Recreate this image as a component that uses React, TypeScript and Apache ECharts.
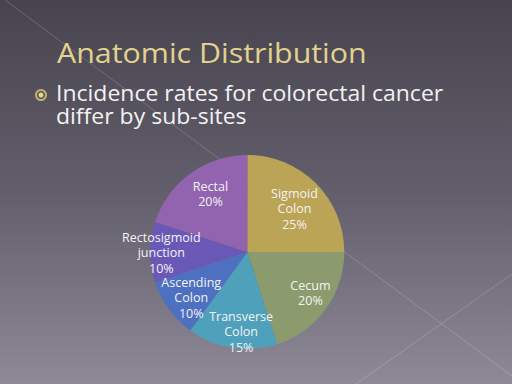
import React, { useEffect, useRef } from "react";
import * as echarts from "echarts";

const titleText = "Anatomic Distribution";
const bulletLines = ["Incidence rates for colorectal cancer", "differ by sub-sites"];
const siteNames = ["Sigmoid Colon", "Cecum", "Transverse Colon", "Ascending Colon", "Rectosigmoid junction", "Rectal"];
const sharePercent = [25, 20, 15, 10, 10, 20];
const sliceColors = ["#bba455", "#8c9b6e", "#4fa0ba", "#4e70c0", "#6a58b6", "#9264b0"];
const labelNudges: [number, number][] = [[-8, 12], [0, -5], [6, 3], [7, 0], [-8, 1], [9, 5]];

const FONT = "'Open Sans', 'DejaVu Sans', sans-serif";

export default function App() {
  const ref = useRef<HTMLDivElement>(null);
  useEffect(() => {
    document.body.style.margin = "0";
    const chart = echarts.init(ref.current!, undefined, { renderer: "svg" });
    const center = ["48.3%", "65.6%"];
    chart.setOption({
      animation: false,
      backgroundColor: new echarts.graphic.LinearGradient(0, 0, 0, 1, [
        { offset: 0, color: "#47444f" },
        { offset: 0.5, color: "#625e6b" },
        { offset: 1, color: "#8d8997" },
      ]),
      graphic: [
        { type: "line", z: 0, shape: { x1: 5, y1: 0, x2: 512, y2: 376 }, style: { stroke: "rgba(255,255,255,0.18)", lineWidth: 1 } },
        { type: "line", z: 0, shape: { x1: 512, y1: 274, x2: 356, y2: 384 }, style: { stroke: "rgba(255,255,255,0.18)", lineWidth: 1 } },
        {
          type: "text", x: 57, y: 38, z: 5, scaleX: 1.085,
          style: { text: titleText, fill: "#e3d28e", font: `28px ${FONT}` },
        },
        { type: "circle", z: 5, shape: { cx: 41, cy: 95, r: 5 }, style: { fill: "rgba(0,0,0,0)", stroke: "#c2b06e", lineWidth: 2 } },
        { type: "circle", z: 5, shape: { cx: 41, cy: 95, r: 2.5 }, style: { fill: "#e6d98a" } },
        {
          type: "text", x: 56, y: 81, z: 5, scaleX: 1.095,
          style: { text: bulletLines.join("\n"), fill: "#f2f2f2", font: `21px ${FONT}`, lineHeight: 23 },
        },
      ],
      series: [
        {
          type: "pie",
          center,
          radius: [0, 97],
          startAngle: 90,
          clockwise: true,
          silent: true,
          label: { show: false },
          labelLine: { show: false },
          data: siteNames.map((n, i) => ({ name: n, value: sharePercent[i], itemStyle: { color: sliceColors[i] } })),
        },
        {
          type: "pie",
          center,
          radius: [0, 150],
          startAngle: 90,
          clockwise: true,
          silent: true,
          avoidLabelOverlap: false,
          labelLayout: { hideOverlap: false },
          z: 3,
          itemStyle: { color: "rgba(0,0,0,0)" },
          labelLine: { show: false },
          data: siteNames.map((n, i) => ({
            name: n,
            value: sharePercent[i],
            label: { offset: labelNudges[i] },
          })),
          label: {
            show: true,
            position: "inside",
            color: "#f3f3f3",
            fontFamily: FONT,
            fontSize: 12.5,
            lineHeight: 15.5,
            align: "center",
            formatter: (p: any) => {
              const n = p.name === "Rectosigmoid junction" ? "Rectosigmoid\njunction" : p.name.replace(" ", "\n");
              return `${n}\n${p.value}%`;
            },
          },
        },
      ],
    });
    return () => chart.dispose();
  }, []);
  return <div ref={ref} style={{ width: 512, height: 384, position: "absolute", left: 0, top: 0 }} />;
}
